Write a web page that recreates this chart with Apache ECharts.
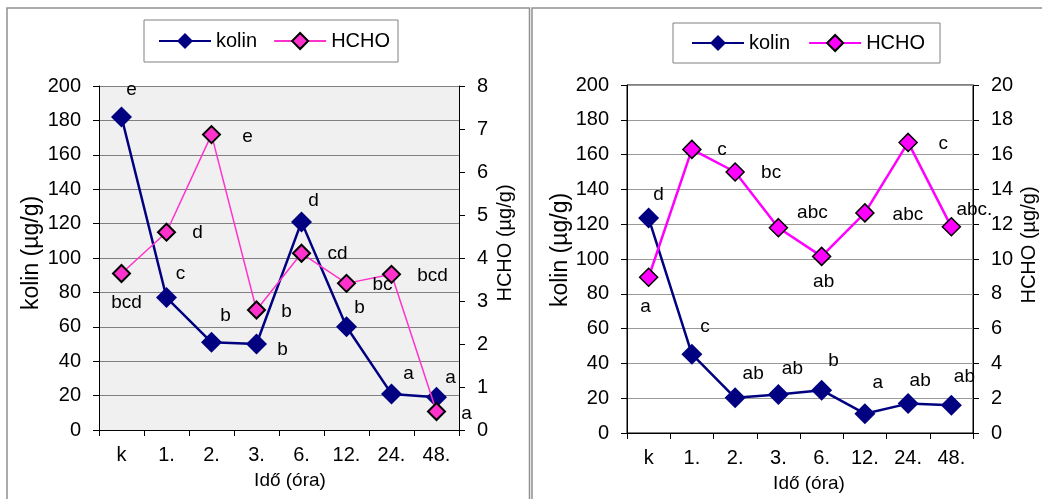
<!DOCTYPE html>
<html>
<head>
<meta charset="utf-8">
<script src="https://cdn.jsdelivr.net/npm/echarts@6/dist/echarts.min.js"></script>
<style>
html,body{margin:0;padding:0;background:#fff;}
#c{width:1042px;height:499px;}
</style>
</head>
<body>
<div id="c"></div>
<script>
// ---- data ----
const categories = ['k', '1.', '2.', '3.', '6.', '12.', '24.', '48.'];

const kolinLeft = [182, 77, 51, 50, 121, 60, 21, 19];
const hchoLeft = [3.64, 4.6, 6.87, 2.79, 4.11, 3.41, 3.62, 0.43];
const kolinLeftLetters = ['e', 'c', 'b', 'b', 'd', 'b', 'a', 'a'];
const hchoLeftLetters = ['bcd', 'd', 'e', 'b', 'cd', 'bc', 'bcd', 'a'];

const kolinRight = [123.5, 45.3, 20.2, 22.1, 24.6, 11.1, 16.9, 16.0];
const hchoRight = [8.95, 16.3, 15.0, 11.8, 10.15, 12.65, 16.7, 11.85];
const kolinRightLetters = ['d', 'c', 'ab', 'ab', 'b', 'a', 'ab', 'ab'];
const hchoRightLetters = ['a', 'c', 'bc', 'abc', 'ab', 'abc', 'c', 'abc.'];

const leftAxisTicks = [0, 200, 20];   // min, max, interval
const leftHchoTicks = [0, 8, 1];
const rightAxisTicks = [0, 200, 20];
const rightHchoTicks = [0, 20, 2];

// ---- label placement (pixels, relative to marker) ----
const offKL = [[10, -27], [14, -24], [14, -27], [26, 6], [12, -21], [13, -19], [17, -20], [14, -20]];
const offHL = [[5, 29], [31, 1], [36, 2], [30, 2], [36, 0], [36, 1], [41, 1], [30, 2]];
const offKR = [[10, -23], [13, -27], [18, -24], [14, -26], [12, -29], [13, -31], [12, -23], [13, -28]];
const offHR = [[-3, 29], [30, 0], [36, 1], [34, -15], [2, 25], [43, 2], [35, 1], [23, -17]];

const FONT = "'Liberation Sans', Arial, sans-serif";
const NAVY = '#000080';
const PINK = '#FF33CC';
const MAGENTA = '#FF00FF';

function withLabels(values, offsets) {
  return values.map((v, i) => ({ value: v, label: { offset: offsets[i] } }));
}

function labelCfg(letters) {
  return {
    show: true, position: 'inside', align: 'center', verticalAlign: 'middle',
    formatter: p => letters[p.dataIndex],
    color: '#000', fontSize: 19, fontFamily: FONT
  };
}

function xAxisCfg(gridIndex, shift) {
  return {
    type: 'category', gridIndex, data: categories, boundaryGap: true,
    name: 'Idő (óra)', nameLocation: 'middle', nameGap: 41, nameMoveOverlap: false,
    nameTextStyle: { color: '#000', fontSize: 19, fontFamily: FONT, padding: [0, 0, 0, shift] },
    axisLine: { show: true, lineStyle: { color: '#000', width: 1 } },
    axisTick: { show: true, interval: 0, length: 6, lineStyle: { color: '#000' } },
    axisLabel: { interval: 0, margin: 15, color: '#000', fontSize: 20, fontFamily: FONT },
    splitLine: { show: false }
  };
}

function yAxisCfg(gridIndex, ticks, name, position, nameGap, up, split, splitColor) {
  return {
    type: 'value', gridIndex, position, min: ticks[0], max: ticks[1], interval: ticks[2],
    name, nameLocation: 'middle', nameRotate: 90, nameGap, nameMoveOverlap: false,
    nameTextStyle: { color: '#000', fontSize: position === 'left' ? 23 : 20, fontFamily: FONT, padding: [0, 0, 0, up * 2] },
    axisLine: { show: true, lineStyle: { color: '#000', width: 1 } },
    axisTick: { show: true, length: 6, lineStyle: { color: '#000' } },
    axisLabel: { margin: 18, color: '#000', fontSize: 20, fontFamily: FONT },
    splitLine: { show: split, lineStyle: { color: splitColor, width: 1 } }
  };
}

const chart = echarts.init(document.getElementById('c'), null, { renderer: 'canvas' });

chart.setOption({
  animation: false,
  backgroundColor: '#fff',
  textStyle: { fontFamily: FONT },
  graphic: [
    { type: 'rect', silent: true, z: -10, shape: { x: 7, y: 8, width: 522.5, height: 560 },
      style: { fill: 'none', stroke: '#909090', lineWidth: 1.5 } },
    { type: 'rect', silent: true, z: -10, shape: { x: 532, y: 8, width: 560, height: 560 },
      style: { fill: 'none', stroke: '#909090', lineWidth: 1.5 } }
  ],
  legend: [
    {
      left: 144, top: 20, padding: [11, 8, 11, 14], itemGap: 16, itemWidth: 52, itemHeight: 20,
      borderColor: '#808080', borderWidth: 1, backgroundColor: '#fff',
      textStyle: { color: '#000', fontSize: 20, fontFamily: FONT },
      data: ['kolin', 'HCHO'], selectedMode: false
    },
    {
      left: 673, top: 23, padding: [10, 15, 10, 18], itemGap: 18, itemWidth: 52, itemHeight: 20,
      borderColor: '#808080', borderWidth: 1, backgroundColor: '#fff',
      textStyle: { color: '#000', fontSize: 20, fontFamily: FONT },
      data: ['kolin_2', 'HCHO_2'], selectedMode: false,
      formatter: n => n.replace('_2', '')
    }
  ],
  grid: [
    { left: 99, top: 86, width: 360, height: 344, show: true, backgroundColor: '#F0F0F0', borderWidth: 0, outerBoundsMode: 'none' },
    { left: 627, top: 85, width: 346, height: 348, show: true, backgroundColor: '#fff', borderColor: '#000', borderWidth: 1, outerBoundsMode: 'none' }
  ],
  xAxis: [xAxisCfg(0, 22), xAxisCfg(1, 18)],
  yAxis: [
    yAxisCfg(0, leftAxisTicks, 'kolin (µg/g)', 'left', 56, 5, true, '#808080'),
    yAxisCfg(0, leftHchoTicks, 'HCHO (µg/g)', 'right', 36, 15, false, '#808080'),
    yAxisCfg(1, rightAxisTicks, 'kolin (µg/g)', 'left', 55, 9, true, '#9a9a9a'),
    yAxisCfg(1, rightHchoTicks, 'HCHO (µg/g)', 'right', 46, 14, false, '#9a9a9a')
  ],
  series: [
    {
      name: 'kolin', type: 'line', xAxisIndex: 0, yAxisIndex: 0,
      data: withLabels(kolinLeft, offKL), symbol: 'diamond', symbolSize: 21,
      lineStyle: { color: NAVY, width: 2.5 }, itemStyle: { color: NAVY, borderWidth: 0 },
      label: labelCfg(kolinLeftLetters), z: 3
    },
    {
      name: 'HCHO', type: 'line', xAxisIndex: 0, yAxisIndex: 1,
      data: withLabels(hchoLeft, offHL), symbol: 'diamond', symbolSize: 17,
      lineStyle: { color: PINK, width: 1.5 }, itemStyle: { color: PINK, borderColor: '#000', borderWidth: 2 },
      label: labelCfg(hchoLeftLetters), z: 4
    },
    {
      name: 'kolin_2', type: 'line', xAxisIndex: 1, yAxisIndex: 2,
      data: withLabels(kolinRight, offKR), symbol: 'diamond', symbolSize: 21,
      lineStyle: { color: NAVY, width: 2.5 }, itemStyle: { color: NAVY, borderWidth: 0 },
      label: labelCfg(kolinRightLetters), z: 3
    },
    {
      name: 'HCHO_2', type: 'line', xAxisIndex: 1, yAxisIndex: 3,
      data: withLabels(hchoRight, offHR), symbol: 'diamond', symbolSize: 18,
      lineStyle: { color: MAGENTA, width: 2.5 }, itemStyle: { color: MAGENTA, borderColor: '#000', borderWidth: 1.5 },
      label: labelCfg(hchoRightLetters), z: 4
    }
  ]
});
</script>
</body>
</html>
